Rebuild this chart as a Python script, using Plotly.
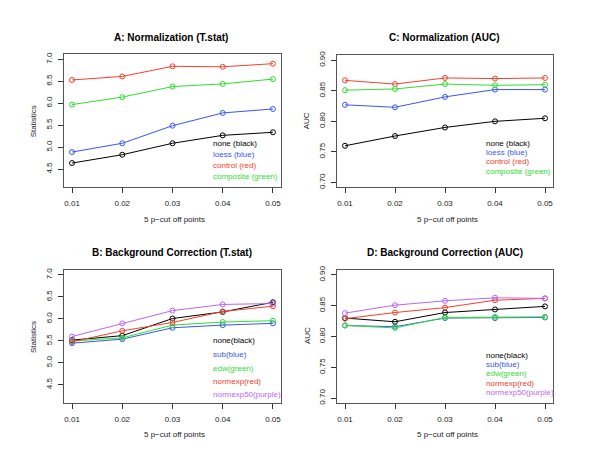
import plotly.graph_objects as go

# cut-off points shared by all four panels
cutoffs = [0.01, 0.02, 0.03, 0.04, 0.05]
cut_labels = ["0.01", "0.02", "0.03", "0.04", "0.05"]

# A: Normalization (T.stat)
a_none = [4.64, 4.83, 5.09, 5.27, 5.34]
a_loess = [4.89, 5.09, 5.49, 5.78, 5.87]
a_control = [6.53, 6.61, 6.84, 6.83, 6.90]
a_composite = [5.97, 6.14, 6.38, 6.44, 6.55]

# C: Normalization (AUC)
c_none = [0.760, 0.776, 0.790, 0.800, 0.805]
c_loess = [0.827, 0.823, 0.840, 0.852, 0.852]
c_control = [0.867, 0.861, 0.871, 0.870, 0.871]
c_composite = [0.851, 0.853, 0.861, 0.859, 0.860]

# B: Background Correction (T.stat)
b_none = [5.52, 5.62, 6.01, 6.16, 6.38]
b_sub = [5.45, 5.54, 5.80, 5.86, 5.90]
b_edw = [5.50, 5.57, 5.86, 5.93, 5.96]
b_normexp = [5.48, 5.73, 5.92, 6.17, 6.29]
b_normexp50 = [5.60, 5.90, 6.19, 6.33, 6.35]

# D: Background Correction (AUC)
d_none = [0.830, 0.824, 0.839, 0.844, 0.849]
d_sub = [0.818, 0.816, 0.830, 0.830, 0.831]
d_edw = [0.818, 0.814, 0.831, 0.832, 0.832]
d_normexp = [0.829, 0.839, 0.847, 0.859, 0.862]
d_normexp50 = [0.838, 0.851, 0.858, 0.863, 0.862]

tstat_ticks = [4.5, 5.0, 5.5, 6.0, 6.5, 7.0]
tstat_labels = ["4.5", "5.0", "5.5", "6.0", "6.5", "7.0"]
auc_ticks = [0.70, 0.75, 0.80, 0.85, 0.90]
auc_labels = ["0.70", "0.75", "0.80", "0.85", "0.90"]

BLACK = "#000000"
BLUE = "#3a55f5"
RED = "#f5402e"
GREEN = "#2ee02e"
PURPLE = "#b966f5"

W, H = 600, 464
OFF = 8  # page body margin pushes the plot 8px right/down
FONT = "Liberation Sans, Arial, sans-serif"


def px(x):
    return (x - OFF) / W


def py(y):
    return 1 - (y - OFF) / H


fig = go.Figure()

# panel boxes in window pixel coordinates: (left, right, top, bottom)
panels = {
    "A": dict(xa="x", ya="y", box=(64, 281, 50, 185)),
    "C": dict(xa="x2", ya="y2", box=(337, 553, 51, 185)),
    "B": dict(xa="x3", ya="y3", box=(64, 281, 269, 404)),
    "D": dict(xa="x4", ya="y4", box=(337, 553, 269, 404)),
}

series = {
    "A": [(a_none, BLACK), (a_loess, BLUE), (a_control, RED), (a_composite, GREEN)],
    "C": [(c_none, BLACK), (c_loess, BLUE), (c_control, RED), (c_composite, GREEN)],
    "B": [(b_none, BLACK), (b_sub, BLUE), (b_edw, GREEN), (b_normexp, RED), (b_normexp50, PURPLE)],
    "D": [(d_none, BLACK), (d_sub, BLUE), (d_edw, GREEN), (d_normexp, RED), (d_normexp50, PURPLE)],
}

for key, p in panels.items():
    for vals, col in series[key]:
        fig.add_trace(go.Scatter(
            x=cutoffs, y=vals, mode="lines+markers",
            line=dict(color=col, width=1),
            marker=dict(symbol="circle-open", size=5, color=col, line=dict(width=1, color=col)),
            xaxis=p["xa"], yaxis=p["ya"], showlegend=False, hoverinfo="skip",
        ))

axis_common = dict(
    showgrid=False, zeroline=False, showline=True, mirror=True,
    linecolor="#555555", linewidth=1, ticks="outside", ticklen=5,
    tickcolor="#333333", tickfont=dict(family=FONT, size=8, color="#222222"),
)

layout = {}
for i, (key, p) in enumerate(panels.items()):
    l, r, t, b = p["box"]
    suffix = "" if i == 0 else str(i + 1)
    is_auc = key in ("C", "D")
    layout["xaxis" + suffix] = dict(
        axis_common, domain=[px(l), px(r)], range=[0.0084, 0.0516],
        tickvals=cutoffs, ticktext=cut_labels, anchor="y" + suffix,
        ticklabelstandoff=3,
    )
    layout["yaxis" + suffix] = dict(
        axis_common, domain=[py(b), py(t)],
        range=[0.692, 0.908] if is_auc else [4.088, 7.112],
        tickvals=auc_ticks if is_auc else tstat_ticks,
        ticktext=auc_labels if is_auc else tstat_labels,
        tickangle=-90, anchor="x" + suffix, ticklabelstandoff=3,
    )

fig.update_layout(**layout)


def note(text, x, y, size=8, color="#222222", bold=False, angle=0, xanchor="center"):
    if bold:
        text = "<b>" + text + "</b>"
    fig.add_annotation(
        text=text, x=px(x), y=py(y), xref="paper", yref="paper",
        showarrow=False, textangle=angle, xanchor=xanchor, yanchor="middle",
        font=dict(family=FONT, size=size, color=color),
    )


# titles
note("A: Normalization (T.stat)", 171, 33, size=10, color="#000000", bold=True)
note("C: Normalization (AUC)", 444, 33, size=10, color="#000000", bold=True)
note("B: Background Correction (T.stat)", 172, 251, size=10, color="#000000", bold=True)
note("D: Background Correction (AUC)", 445, 251, size=10, color="#000000", bold=True)

# axis labels
for cx, cy in [(174, 218), (447, 218), (174, 436), (447, 436)]:
    note("5 p\u2212cut off points", cx, cy)
note("Statistics", 33, 118, angle=-90)
note("AUC", 306, 118, angle=-90)
note("Statistics", 33, 337, angle=-90)
note("AUC", 307, 336, angle=-90)

# in-plot legends
leg_a = [("none (black)", BLACK), ("loess (blue)", BLUE), ("control (red)", RED), ("composite (green)", GREEN)]
for (txt, col), yy in zip(leg_a, [141, 152, 163, 174]):
    note(txt, 211, yy, color=col, xanchor="left")
for (txt, col), yy in zip(leg_a, [140, 149.5, 159, 168.5]):
    note(txt, 484, yy, color=col, xanchor="left")

leg_b = [("none(black)", BLACK), ("sub(blue)", BLUE), ("edw(green)", GREEN),
         ("normexp(red)", RED), ("normexp50(purple)", PURPLE)]
for (txt, col), yy in zip(leg_b, [341, 355, 368.5, 382, 395.5]):
    note(txt, 211, yy, color=col, xanchor="left")
for (txt, col), yy in zip(leg_b, [355.5, 365, 374.5, 384, 393.5]):
    note(txt, 484, yy, color=col, xanchor="left")

fig.update_layout(
    width=W, height=H, margin=dict(l=0, r=0, t=0, b=0),
    paper_bgcolor="white", plot_bgcolor="white", showlegend=False,
)

fig.write_html("out.html")
